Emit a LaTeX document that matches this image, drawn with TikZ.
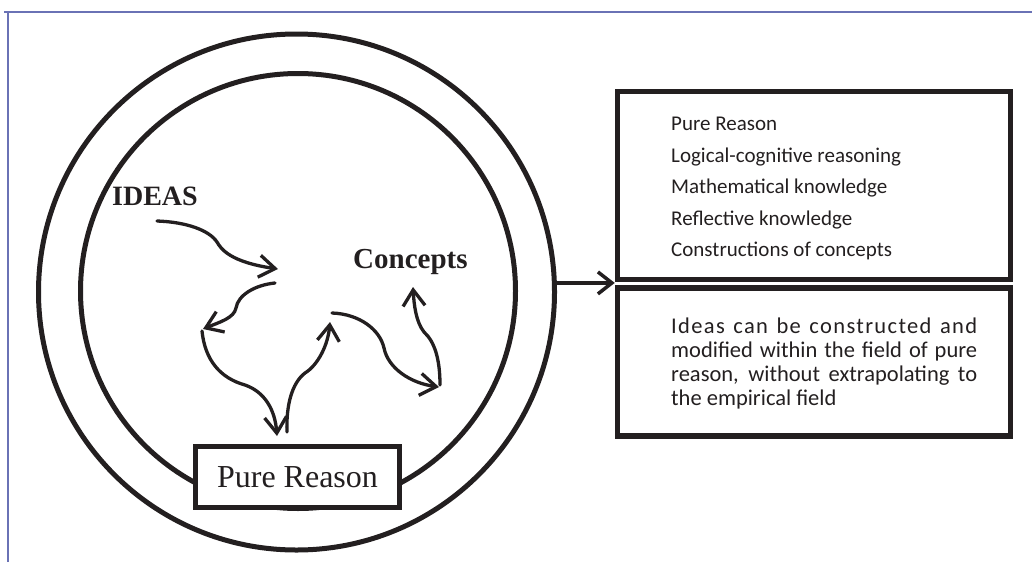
\documentclass[tikz,border=0pt]{standalone}
\usepackage{fontspec}
\setmainfont{Liberation Serif}
\newfontfamily\carl{Carlito}
\usetikzlibrary{arrows.meta}
\definecolor{ink}{HTML}{231F20}
\definecolor{framec}{HTML}{6A72B5}
\begin{document}
\begin{tikzpicture}[x=1pt,y=-1pt,
  ring/.style={draw=ink, circle, line width=5pt, inner sep=0pt},
  panel/.style={draw=ink, line width=5.5pt, inner sep=0pt, minimum width=393pt},
  curly/.style={draw=ink, line width=3.3pt, line cap=round, -{Straight Barb[length=16pt,width=22pt]}},
  listtxt/.style={anchor=base west, inner sep=0pt, text=ink, font=\carl\fontsize{21pt}{25pt}\selectfont},
  bigword/.style={anchor=base west, inner sep=0pt, text=ink, font=\bfseries\fontsize{28pt}{32pt}\selectfont}
]
\useasboundingbox (0,0) rectangle (1032,562);
% frame
\draw[framec, line width=2pt] (8,562) -- (8,12);
\draw[framec, line width=2pt] (4,12) -- (1032,12);

% circles
\node[ring, minimum size=516pt] (outer) at (296.5,292) {};
\node[ring, minimum size=435pt] (inner) at (298,291) {};

% pure reason box
\node[draw=ink, fill=white, line width=4.7pt, minimum width=204pt, minimum height=61pt, inner sep=0pt,
      text=ink, font=\fontsize{32pt}{36pt}\selectfont] (pr) at (297.5,477) {Pure Reason};

% labels
\node[bigword] (ideas) at (112,205) {IDEAS};
\node[bigword, font=\bfseries\fontsize{29pt}{33pt}\selectfont] (concepts) at (353,268) {Concepts};

% curly arrows
\coordinate (a1s) at (157,221);
\coordinate (a1e) at (278,269);
\coordinate (a2s) at (275,283);
\coordinate (a2e) at (203,329);
\coordinate (a3s) at (202,331);
\coordinate (a3e) at (277,436);
\coordinate (a4s) at (287,432);
\coordinate (a4e) at (330,322);
\coordinate (a5s) at (332,313);
\coordinate (a5e) at (439,387);
\coordinate (a6s) at (440,385);
\coordinate (a6e) at (413,287);

\draw[curly] (a1s) .. controls (186,222) and (209,230) .. (217,242)
   .. controls (221,249) and (230,262) .. (a1e);
\draw[curly] (a2s) .. controls (255,285) and (238,295) .. (236,308)
   .. controls (234,318) and (220,322) .. (a2e);
\draw[curly] (a3s) .. controls (205,360) and (220,378) .. (245,385)
   .. controls (265,392) and (275,410) .. (a3e);
\draw[curly] (a4s) .. controls (286,405) and (292,383) .. (305,373)
   .. controls (318,365) and (328,345) .. (a4e);
\draw[curly] (a5s) .. controls (360,314) and (380,330) .. (384,348)
   .. controls (388,368) and (410,383) .. (a5e);
\draw[curly] (a6s) .. controls (440,360) and (435,342) .. (424,332)
   .. controls (416,322) and (414,305) .. (a6e);

% right panels
\node[panel, minimum height=188pt] (top) at (814,185.5) {};
\node[panel, minimum height=148pt] (bottom) at (814,362) {};

\draw[draw=ink, line width=3.5pt, -{Straight Barb[length=14pt,width=22pt]}] (outer.2.4) -- (outer.2.4 -| top.west);

% list text
\node[listtxt] (t1) at (671,130) {Pure Reason};
\node[listtxt] (t2) at (671,162) {Logical-cognitive reasoning};
\node[listtxt] (t3) at (671,193) {Mathematical knowledge};
\node[listtxt] (t4) at (671,225) {Reflective knowledge};
\node[listtxt] (t5) at (671,256) {Constructions of concepts};

% paragraph
\node[anchor=base west, inner sep=0pt, text=ink] (para) at (671,333)
  {\parbox[t]{306pt}{\carl\fontsize{22.5pt}{24pt}\selectfont
   {\addfontfeature{LetterSpace=6}Ideas can be constructed and}\linebreak
   modified within the field of pure\linebreak
   reason, without extrapolating to\linebreak
   the empirical field}};
\end{tikzpicture}
\end{document}
